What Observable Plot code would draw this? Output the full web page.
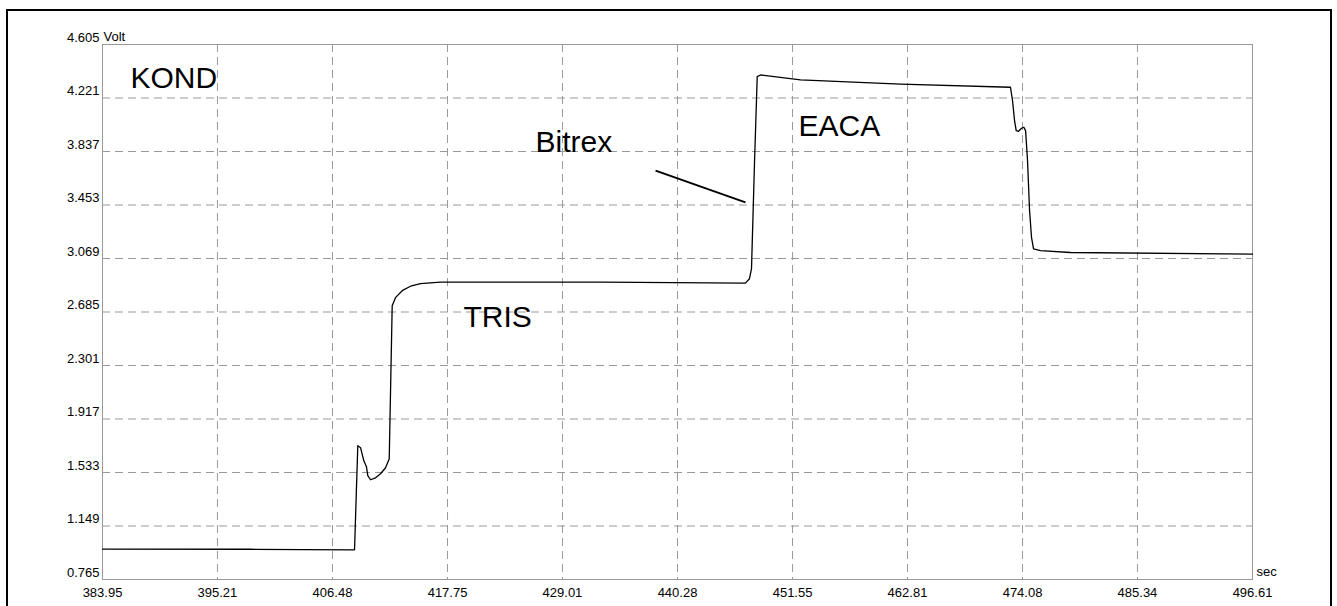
<!DOCTYPE html>
<html>
<head>
<meta charset="utf-8">
<script src="https://cdn.jsdelivr.net/npm/d3@7"></script>
<script src="https://cdn.jsdelivr.net/npm/@observablehq/plot@0.6"></script>
<style>
  html, body { margin: 0; padding: 0; background: #fff; overflow: hidden; }
  #chart { position: absolute; left: 0; top: 0; }
  #border { position: absolute; left: 6px; top: 9px; width: 1322px; height: 620px; border: 2px solid #000; pointer-events: none; }
</style>
</head>
<body>
<div id="chart"></div>
<div id="border"></div>
<script>
// Trace: time (sec) and signal (Volt)
const timeSec = [383.95, 398.45, 408.64, 408.96, 409.23, 409.55, 409.81, 409.94, 410.21, 410.70, 411.19, 411.68, 412.04,
  412.33, 412.65, 413.31, 414.12, 415.10, 417.06, 432.74, 446.94, 447.33, 447.53, 447.83, 448.09, 448.41, 452.33,
  462.13, 472.90, 473.10, 473.30, 473.46, 473.69, 473.98, 474.21, 474.38, 474.57, 474.77, 474.96, 475.16, 475.84,
  478.78, 496.61];
const volt = [0.983, 0.982, 0.978, 1.725, 1.711, 1.617, 1.574, 1.510, 1.481, 1.495, 1.524, 1.567, 1.632,
  2.730, 2.788, 2.838, 2.870, 2.889, 2.899, 2.899, 2.892, 2.924, 2.996, 3.772, 4.375, 4.386, 4.351,
  4.321, 4.298, 4.203, 4.059, 3.987, 3.982, 4.004, 4.011, 3.987, 3.772, 3.413, 3.221, 3.138, 3.126,
  3.112, 3.100];

// Axis ticks
const xTicks = [383.95, 395.21, 406.48, 417.75, 429.01, 440.28, 451.55, 462.81, 474.08, 485.34, 496.61];
const yTicks = [0.765, 1.149, 1.533, 1.917, 2.301, 2.685, 3.069, 3.453, 3.837, 4.221, 4.605];

// Annotations (data coordinates)
const labelText = ["KOND", "TRIS", "Bitrex", "EACA"];
const labelX = [386.69, 419.32, 426.37, 452.14];
const labelY = [4.296, 2.580, 3.836, 3.951];

// Bitrex pointer line
const pointerX = [438.13, 446.94];
const pointerY = [3.700, 3.472];

const trace = timeSec.map((t, i) => ({t, v: volt[i]}));
const labels = labelText.map((s, i) => ({s, x: labelX[i], y: labelY[i]}));
const pointer = [{x1: pointerX[0], y1: pointerY[0], x2: pointerX[1], y2: pointerY[1]}];

const xMin = xTicks[0], xMax = xTicks[xTicks.length - 1];
const yMin = yTicks[0], yMax = yTicks[yTicks.length - 1];

const chart = Plot.plot({
  width: 1337,
  height: 606,
  marginLeft: 102,
  marginRight: 85,
  marginTop: 44,
  marginBottom: 27,
  style: {fontFamily: "'Liberation Sans', Arial, sans-serif", fontSize: "13px", color: "#000", background: "#fff"},
  x: {domain: [xMin, xMax]},
  y: {domain: [yMin, yMax]},
  marks: [
    Plot.gridX(xTicks.slice(1, -1), {stroke: "#999", strokeOpacity: 1, strokeDasharray: "8,5"}),
    Plot.gridY(yTicks.slice(1, -1), {stroke: "#999", strokeOpacity: 1, strokeDasharray: "8,5"}),
    Plot.frame({stroke: "#9a9a9a"}),
    Plot.axisX(xTicks, {tickSize: 0, tickPadding: 8, tickFormat: d => d.toFixed(2), label: null, fill: "#000"}),
    Plot.axisY(yTicks, {tickSize: 0, tickPadding: 3, dy: -7, tickFormat: d => d.toFixed(3), label: null, fill: "#000"}),
    Plot.text(["Volt"], {x: xMin, y: yMax, dx: 1, dy: -8, textAnchor: "start", lineAnchor: "middle", fill: "#000"}),
    Plot.text(["sec"], {x: xMax, y: yMin, dx: 4, dy: -8, textAnchor: "start", lineAnchor: "middle", fill: "#000"}),
    Plot.line(trace, {x: "t", y: "v", stroke: "#000", strokeWidth: 1.3, curve: "linear"}),
    Plot.link(pointer, {x1: "x1", y1: "y1", x2: "x2", y2: "y2", stroke: "#000", strokeWidth: 2}),
    Plot.text(labels, {x: "x", y: "y", text: "s", textAnchor: "start", lineAnchor: "bottom", fontSize: 30, fill: "#000"})
  ]
});
document.getElementById("chart").appendChild(chart);
</script>
</body>
</html>
